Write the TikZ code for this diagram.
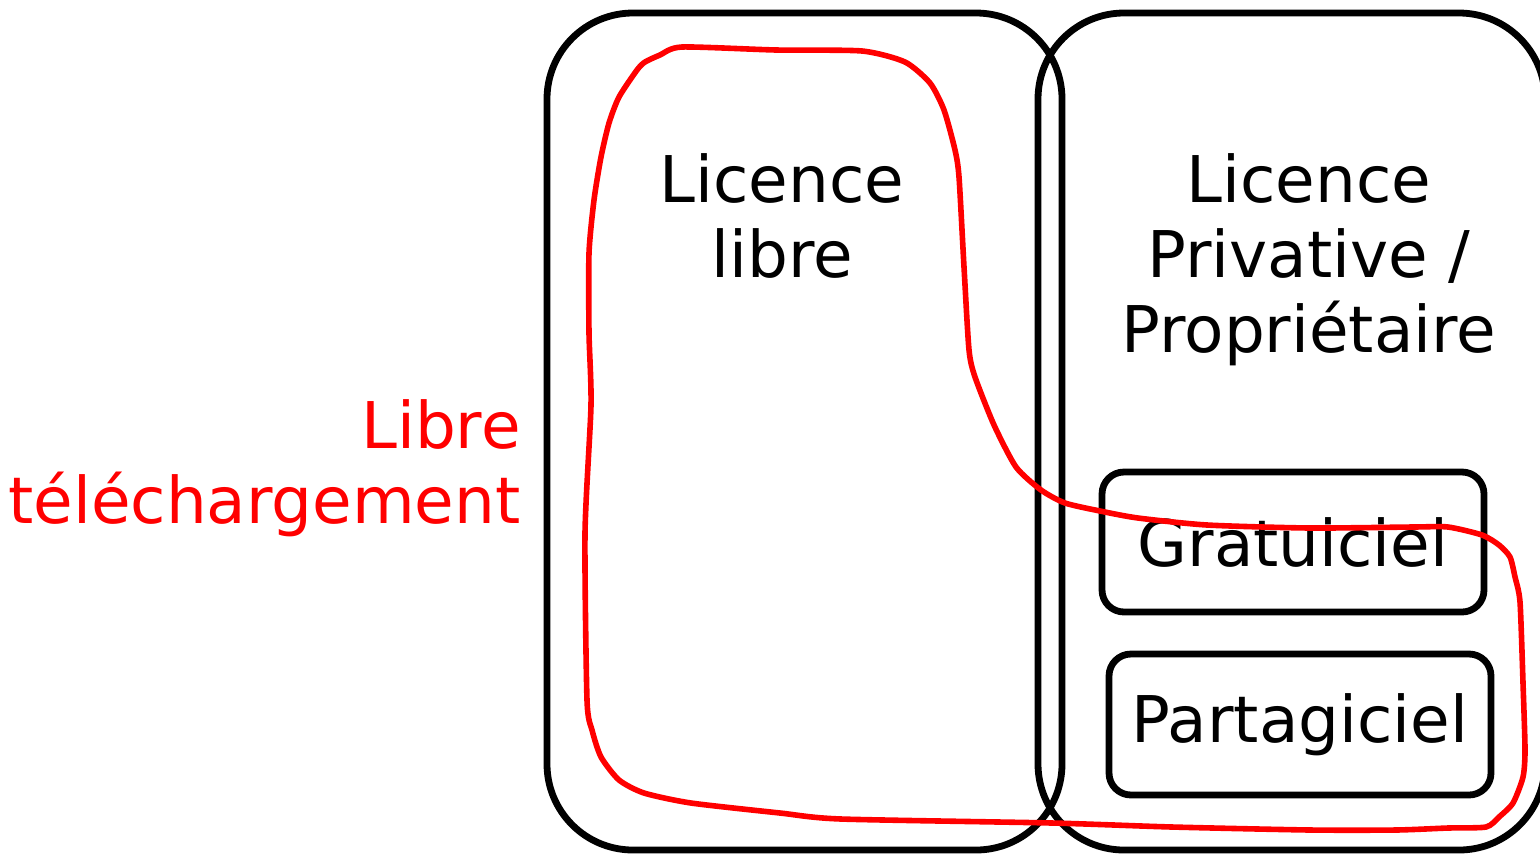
\documentclass[tikz,border=0pt]{standalone}
\usepackage{fontspec}
\setmainfont{DejaVu Sans}
\begin{document}
\begin{tikzpicture}[x=0.5pt,y=-0.5pt,
  bigbox/.style={draw=black,line width=3.4pt,rounded corners=43pt,inner sep=0pt,fill=none},
  smallbox/.style={draw=black,line width=3.4pt,rounded corners=11pt,inner sep=0pt},
  lbl/.style={font=\fontsize{32.2pt}{37.5pt}\selectfont,inner sep=0pt,align=center},
  zone/.style={draw=red,line width=2.8pt,line join=round}]
\useasboundingbox (0,0) rectangle (1540,853);
\clip (0,0) rectangle (1540,853);
\fill[white] (0,0) rectangle (1540,853);
% big boxes
\node[bigbox,minimum width=257.5pt,minimum height=418.5pt] (libre) at (804.5,431.5) {};
\node[bigbox,minimum width=253.5pt,minimum height=418.5pt] (priv) at (1291.5,431.5) {};
% small boxes
\node[smallbox,minimum width=191pt,minimum height=70pt] (grat) at (1293,542) {};
\node[smallbox,minimum width=191pt,minimum height=70.5pt] (part) at (1300,724.5) {};
% labels
\node[lbl,anchor=base] (tlibre) at (782,277) {Licence\\libre};
\node[lbl,anchor=base] (tpriv) at (1309,352) {Licence\\Privative /\\Propriétaire};
\node[lbl] (tgrat) at (grat.center) {Gratuiciel};
\node[lbl] (tpart) at (part.center) {Partagiciel};
\node[lbl,align=right,anchor=base east,text=red] (tdl) at (521,523) {Libre\\téléchargement};
% red zone
\draw[zone] plot[smooth cycle,tension=0.4] coordinates {
(682,47) (776,50) (862,51) (905,62) (930,83) (944,110) (955,150) (959,177)
(964,267) (969,350) (975,377) (994,425) (1016,467) (1041,490) (1065,503)
(1100,511) (1138,518) (1207,525) (1310,528) (1413,527) (1448,527) (1482,535)
(1499,545) (1510,557) (1515,577) (1520,602) (1523,683) (1525,750) (1523,777)
(1513,803) (1499,817) (1486,827) (1448,828) (1396,830) (1310,830) (1172,827)
(1052,823) (841,819) (780,813) (691,803) (644,793) (619,780) (601,757)
(592,730) (587,700) (585,533) (591,405) (589,333) (589,253) (594,200)
(601,157) (609,123) (619,97) (637,70) (645,62) (660,55)};
\end{tikzpicture}
\end{document}
